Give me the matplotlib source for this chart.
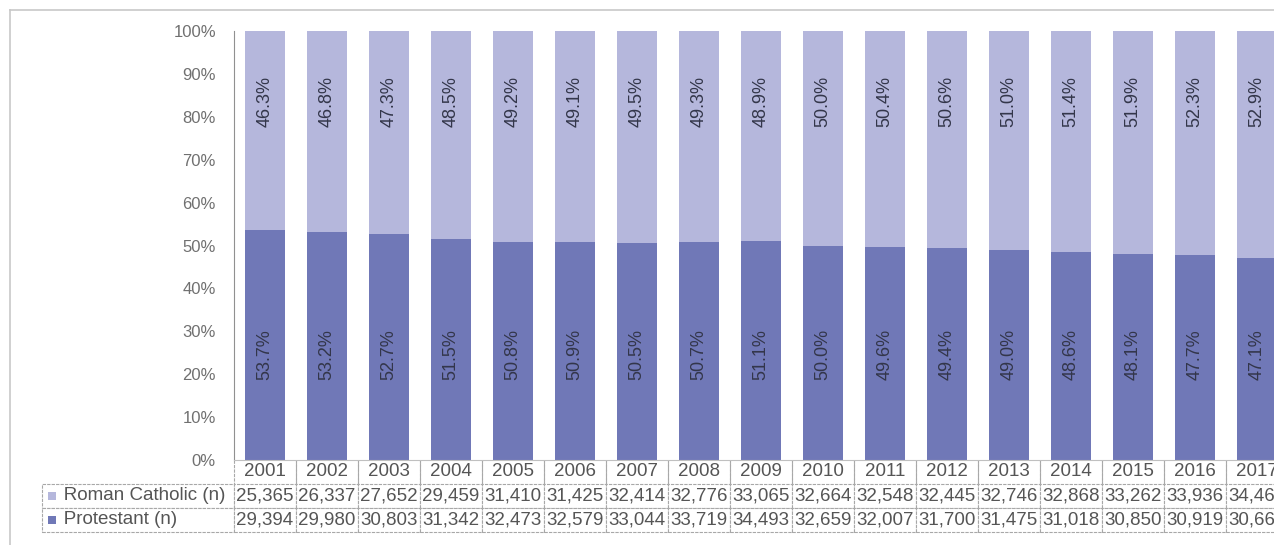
import numpy as np
import matplotlib
matplotlib.use("Agg")
import matplotlib.pyplot as plt
from matplotlib.table import Table
from matplotlib.patches import Rectangle
from matplotlib.lines import Line2D

plt.rcParams['font.family'] = ['Liberation Sans', 'DejaVu Sans']

# data
years = ['2001', '2002', '2003', '2004', '2005', '2006', '2007', '2008', '2009',
         '2010', '2011', '2012', '2013', '2014', '2015', '2016', '2017']
catholic_n = [25365, 26337, 27652, 29459, 31410, 31425, 32414, 32776, 33065,
              32664, 32548, 32445, 32746, 32868, 33262, 33936, 34469]
protestant_n = [29394, 29980, 30803, 31342, 32473, 32579, 33044, 33719, 34493,
                32659, 32007, 31700, 31475, 31018, 30850, 30919, 30660]
catholic_pct = [46.3, 46.8, 47.3, 48.5, 49.2, 49.1, 49.5, 49.3, 48.9,
                50.0, 50.4, 50.6, 51.0, 51.4, 51.9, 52.3, 52.9]
protestant_pct = [53.7, 53.2, 52.7, 51.5, 50.8, 50.9, 50.5, 50.7, 51.1,
                  50.0, 49.6, 49.4, 49.0, 48.6, 48.1, 47.7, 47.1]
row_names = ['Roman Catholic (n)', 'Protestant (n)']

c_light = '#b5b7dc'
c_dark = '#7078b7'
grey_txt = '#707070'
grid_c = '#a8a8a8'
narrow = ['Liberation Sans Narrow', 'Liberation Sans', 'DejaVu Sans']

W, H = 1274, 545
fig = plt.figure(figsize=(W / 100, H / 100), dpi=100)
# plot area in pixels: left 234, top 31, bottom 460, column width 62
ax = fig.add_axes([234 / W, (H - 460) / H, 17 * 62 / W, 429 / H])

x = np.arange(len(years))
prot = np.array(protestant_pct) / 100
cath = np.array(catholic_pct) / 100
ax.bar(x, prot, width=0.65, color=c_dark, linewidth=0)
ax.bar(x, cath, width=0.65, bottom=prot, color=c_light, linewidth=0)

for i in range(len(years)):
    ax.text(x[i], 0.245, f'{protestant_pct[i]:.1f}%', rotation=90, ha='center',
            va='center', fontsize=13, color='#33364a', family=narrow)
    ax.text(x[i], 0.835, f'{catholic_pct[i]:.1f}%', rotation=90, ha='center',
            va='center', fontsize=13, color='#33364a', family=narrow)

ax.set_xlim(-0.5, len(years) - 0.5)
ax.set_ylim(0, 1)
ax.set_yticks(np.arange(0, 1.01, 0.1))
ax.set_yticklabels([f'{int(round(v * 100))}%' for v in np.arange(0, 1.01, 0.1)])
ax.tick_params(axis='y', length=0, pad=13, labelsize=12, labelcolor=grey_txt)
ax.set_xticks([])
for s in ['top', 'right']:
    ax.spines[s].set_visible(False)
ax.spines['left'].set_color('#909090')
ax.spines['bottom'].set_color('#c0c0c0')

# data table under the bars
lab_w = 192 / 1054
col_w = 1 / 17
row_h = 24 / 429
tab = Table(ax, bbox=[-lab_w, -3 * row_h, lab_w + 1, 3 * row_h])
hc = tab.add_cell(0, 0, lab_w, row_h, text='')
hc.visible_edges = ''
for j, yr in enumerate(years):
    c = tab.add_cell(0, j + 1, col_w, row_h, text=yr, loc='center')
    c.visible_edges = 'LR'
rows = [catholic_n, protestant_n]
for r, vals in enumerate(rows):
    c = tab.add_cell(r + 1, 0, lab_w, row_h, text='   ' + row_names[r], loc='left')
    for j, v in enumerate(vals):
        tab.add_cell(r + 1, j + 1, col_w, row_h, text=f'{v:,}', loc='center')
for cell in tab.get_celld().values():
    cell.set_edgecolor(grid_c)
    cell.set_linewidth(0.8)
    cell.set_linestyle((0, (3, 1)))
    cell.get_text().set_color('#555555')
    cell.PAD = 0.03
tab.auto_set_font_size(False)
tab.set_fontsize(13.5)
ax.add_table(tab)

# legend keys in the row labels
for r, col in enumerate([c_light, c_dark]):
    ax.add_patch(Rectangle(((48 - 234) / 1054, -(1.5 + r) * row_h - 4 / 429),
                           8 / 1054, 8 / 429, transform=ax.transAxes,
                           facecolor=col, edgecolor='none', clip_on=False))

# outer chart frame
fig.add_artist(Line2D([10 / W, 1], [1 - 10 / H, 1 - 10 / H], color='#c8c8c8', lw=1.2))
fig.add_artist(Line2D([10 / W, 10 / W], [0, 1 - 10 / H], color='#c8c8c8', lw=1.2))

fig.savefig('out.png', dpi=100)
